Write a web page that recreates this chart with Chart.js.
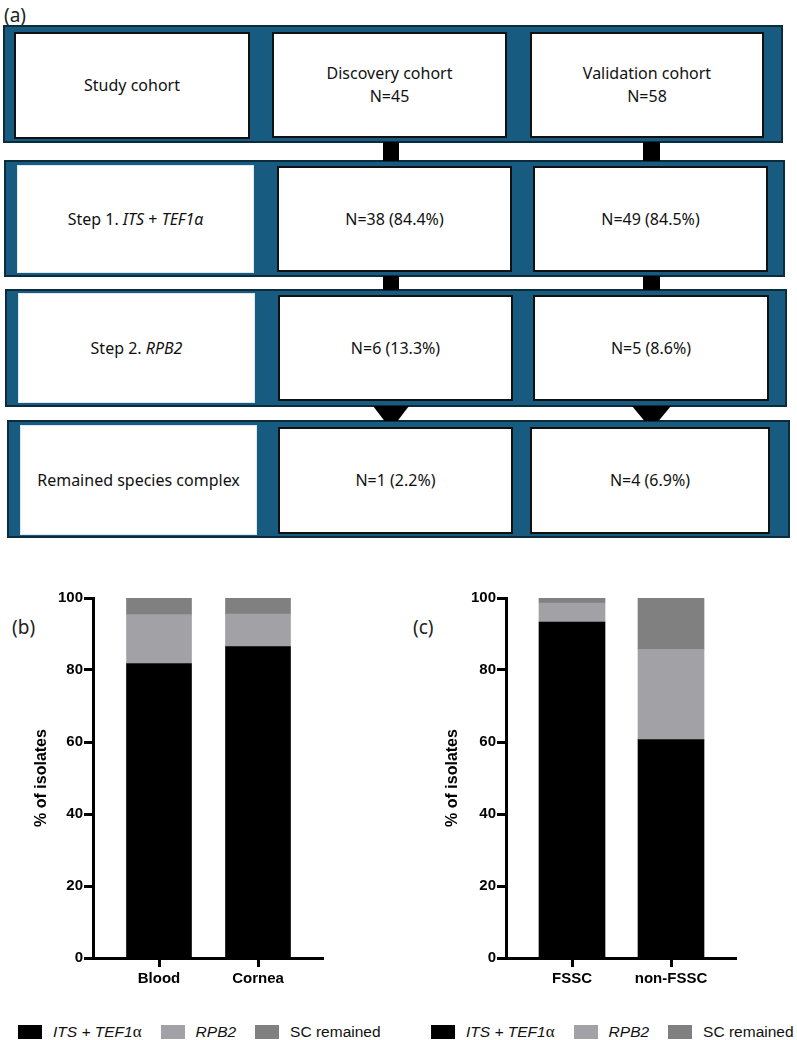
<!DOCTYPE html>
<html lang="en">
<head>
<meta charset="UTF-8">
<title>Identification flow and stacked bars</title>
<script src="https://cdn.jsdelivr.net/npm/chart.js"></script>
<style>
  body { margin: 0; width: 797px; height: 1040px; position: relative; background: #fff; overflow: hidden;
         font-family: "Noto Sans", "Open Sans", sans-serif; color: #111; }
  .tag { position: absolute; font-size: 19px; font-family: "Noto Sans", sans-serif; color: #222; }
  .row { position: absolute; background: #175c80; border: 2px solid #0c2c3d; box-sizing: border-box; }
  .box { position: absolute; background: #fff; box-sizing: border-box; border: 2px solid #111;
         display: flex; align-items: center; justify-content: center; text-align: center;
         font-size: 16px; line-height: 23px; }
  .box.plain { border: 1px solid #dfe8ee; }
  .link { position: absolute; background: #000; }
  .arrow { position: absolute; background: #000; clip-path: polygon(0 0, 100% 0, 68% 100%, 32% 100%); }
  canvas { position: absolute; }
  .legend { position: absolute; top: 1022px; display: flex; align-items: center; white-space: nowrap;
            font-family: "Liberation Sans", Arial, sans-serif; font-size: 15.5px; color: #111; }
  .legend .item { display: flex; align-items: center; margin-right: 19px; }
  .legend .sw { width: 24px; height: 14px; margin-right: 11px; flex: none; }
  .legend .greek { font-family: "Liberation Serif", serif; font-size: 17px; }
</style>
</head>
<body>
<div class="tag" style="left:4px;top:2px;">(a)</div>
<div class="tag" style="left:12px;top:614px;">(b)</div>
<div class="tag" style="left:413px;top:614px;">(c)</div>
<div id="flow"></div>
<canvas id="chartB" width="400" height="412" style="left:0;top:588px;"></canvas>
<canvas id="chartC" width="397" height="412" style="left:400px;top:588px;"></canvas>
<div class="legend" id="legendB" style="left:18px;"></div>
<div class="legend" id="legendC" style="left:431px;width:366px;"></div>
<script>
// ---- data ----
const stepLabels = ['Study cohort', 'Step 1. <i>ITS</i> + <i>TEF1α</i>', 'Step 2. <i>RPB2</i>', 'Remained species complex'];
const discoveryText = ['Discovery cohort<br>N=45', 'N=38 (84.4%)', 'N=6 (13.3%)', 'N=1 (2.2%)'];
const validationText = ['Validation cohort<br>N=58', 'N=49 (84.5%)', 'N=5 (8.6%)', 'N=4 (6.9%)'];

const seriesNames = ['<i>ITS + TEF1</i><span class="greek">α</span>', '<i>RPB2</i>', 'SC remained'];
const seriesColors = ['#000000', '#a2a2a6', '#808080'];

const sourceCats = ['Blood', 'Cornea'];
const sourceIts = [81.8, 86.5];
const sourceRpb2 = [13.6, 9.0];
const sourceSc = [4.5, 4.5];

const complexCats = ['FSSC', 'non-FSSC'];
const complexIts = [93.3, 60.7];
const complexRpb2 = [5.3, 25.0];
const complexSc = [1.3, 14.3];

const yTicks = [0, 20, 40, 60, 80, 100];

// ---- flowchart (panel a) ----
const rows = [
  {l: 3, t: 25, w: 780, h: 118, b: [[14, 32, 236, 107], [272, 32, 235, 106], [530, 32, 234, 106]], plain: false},
  {l: 4, t: 160, w: 781, h: 117, b: [[17, 165, 237, 108], [277, 166, 235, 106], [533, 166, 235, 106]], plain: true},
  {l: 5, t: 289, w: 782, h: 118, b: [[18, 293, 237, 110], [278, 295, 235, 106], [533, 295, 236, 106]], plain: true},
  {l: 7, t: 420, w: 783, h: 118, b: [[20, 425, 237, 110], [278, 427, 235, 107], [530, 427, 240, 107]], plain: true}
];
let html = '';
rows.forEach((r, i) => {
  html += `<div class="row" style="left:${r.l}px;top:${r.t}px;width:${r.w}px;height:${r.h}px;"></div>`;
  const texts = [stepLabels[i], discoveryText[i], validationText[i]];
  r.b.forEach((b, j) => {
    const cls = (j === 0 && r.plain) ? 'box plain' : 'box';
    html += `<div class="${cls}" style="left:${b[0]}px;top:${b[1]}px;width:${b[2]}px;height:${b[3]}px;"><div>${texts[j]}</div></div>`;
  });
});
html += '<div class="link" style="left:383px;top:142px;width:16px;height:19px;"></div>';
html += '<div class="link" style="left:643px;top:142px;width:17px;height:19px;"></div>';
html += '<div class="link" style="left:383px;top:276px;width:16px;height:14px;"></div>';
html += '<div class="link" style="left:643px;top:276px;width:17px;height:14px;"></div>';
html += '<div class="arrow" style="left:373px;top:406px;width:36px;height:15px;"></div>';
html += '<div class="arrow" style="left:632px;top:406px;width:39px;height:15px;"></div>';
document.getElementById('flow').innerHTML = html;

// ---- legends ----
function fillLegend(id) {
  let s = '';
  seriesNames.forEach((n, i) => {
    s += `<div class="item"><div class="sw" style="background:${seriesColors[i]}"></div><span>${n}</span></div>`;
  });
  document.getElementById(id).innerHTML = s;
}
fillLegend('legendB');
fillLegend('legendC');

// ---- stacked bar charts ----
function makeChart(id, cats, its, rpb2, sc, axisW, titlePad, rightPad, barW) {
  const sets = [its, rpb2, sc].map((vals, i) => ({
    label: seriesNames[i].replace(/<[^>]+>/g, ''),
    data: vals.map((v, k) => ({x: k + 1, y: v})),
    backgroundColor: seriesColors[i],
    borderWidth: 0,
    barThickness: barW
  }));
  const tickFont = {family: "'Liberation Sans', Arial, sans-serif", size: 15, weight: 'bold'};
  const titleFont = {family: "'Liberation Sans', Arial, sans-serif", size: 16, weight: 'bold'};
  return new Chart(document.getElementById(id), {
    type: 'bar',
    data: {datasets: sets},
    options: {
      responsive: false,
      animation: false,
      layout: {padding: {top: 10, right: rightPad, left: 0, bottom: 0}},
      plugins: {legend: {display: false}, tooltip: {enabled: false}},
      scales: {
        x: {
          type: 'linear', stacked: true, offset: false,
          min: 1 - 66 / 99, max: 1 - 66 / 99 + 230 / 99,
          afterBuildTicks: s => { s.ticks = cats.map((c, k) => ({value: k + 1})); },
          afterFit: s => { s.height = 42; },
          ticks: {callback: v => cats[v - 1], color: '#000', font: tickFont, padding: 3, maxRotation: 0, autoSkip: false},
          grid: {display: true, offset: false, drawOnChartArea: false, drawTicks: true, tickLength: 9, tickWidth: 3, tickColor: '#000'},
          border: {display: true, color: '#000', width: 3}
        },
        y: {
          stacked: true, min: 0, max: 100,
          afterBuildTicks: s => { s.ticks = yTicks.map(v => ({value: v})); },
          afterFit: s => { s.width = axisW; },
          ticks: {color: '#000', font: tickFont, padding: 1},
          grid: {display: true, drawOnChartArea: false, drawTicks: true, tickLength: 9, tickWidth: 3, tickColor: '#000'},
          border: {display: true, color: '#000', width: 3},
          title: {display: true, text: '% of isolates', color: '#000', font: titleFont, padding: {top: titlePad, bottom: 0}}
        }
      }
    }
  });
}
makeChart('chartB', sourceCats, sourceIts, sourceRpb2, sourceSc, 93, 32, 77, 65);
makeChart('chartC', complexCats, complexIts, complexRpb2, complexSc, 106, 43, 61, 66);
</script>
</body>
</html>
